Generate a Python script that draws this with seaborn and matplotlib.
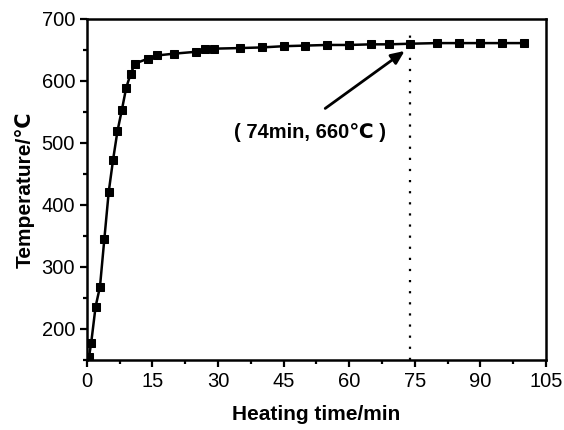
import pandas as pd
import matplotlib.pyplot as plt
import seaborn as sns
from matplotlib.ticker import MultipleLocator

# Heating curve
time_min = [0.5, 1, 2, 3, 4, 5, 6, 7, 8, 9, 10, 11, 14, 16, 20, 25, 27, 29,
            35, 40, 45, 50, 55, 60, 65, 69, 74, 80, 85, 90, 95, 100]
temperature = [155, 178, 236, 268, 345, 421, 473, 519, 553, 589, 611, 628,
               636, 641, 644, 647, 651, 652, 653, 654, 656, 657, 658, 658,
               659, 659, 660, 661, 661, 661, 661, 661]
mark_time = 74
mark_temp = 660
mark_label = '( 74min, 660\u2103 )'

df = pd.DataFrame({'time': time_min, 'temp': temperature})

sns.set_style('ticks')
plt.rcParams['font.family'] = ['Liberation Sans', 'DejaVu Sans']
plt.rcParams['text.color'] = 'black'
plt.rcParams['axes.labelcolor'] = 'black'
plt.rcParams['xtick.color'] = 'black'
plt.rcParams['ytick.color'] = 'black'
plt.rcParams['axes.edgecolor'] = 'black'

fig = plt.figure(figsize=(5.64, 4.30), dpi=100)
ax = fig.add_axes([0.154, 0.163, 0.814, 0.793])

sns.lineplot(data=df, x='time', y='temp', ax=ax, color='black',
             linewidth=1.8, marker='s', markersize=6, markeredgecolor='black')

ax.axvline(mark_time, color='black', linestyle=(0, (1, 4)), linewidth=1.6,
           ymax=(683 - 150) / (700 - 150))

ax.annotate('', xy=(73.2, 651), xytext=(54, 553),
            arrowprops=dict(arrowstyle='-|>,head_length=0.8,head_width=0.35',
                            color='black', lw=2))
ax.text(51, 517, mark_label, ha='center', va='center', fontsize=14.5,
        fontweight='bold')

ax.set_xlim(0, 105)
ax.set_ylim(150, 700)
ax.xaxis.set_major_locator(MultipleLocator(15))
ax.xaxis.set_minor_locator(MultipleLocator(7.5))
ax.yaxis.set_major_locator(MultipleLocator(100))
ax.yaxis.set_minor_locator(MultipleLocator(50))
ax.tick_params(which='major', length=5, width=1.6, labelsize=14.5)
ax.tick_params(which='minor', length=3, width=1.6)
for s in ax.spines.values():
    s.set_linewidth(1.8)

ax.set_xlabel('Heating time/min', fontsize=15, fontweight='bold', labelpad=10)
ax.set_ylabel('Temperature/\u2103', fontsize=15, fontweight='bold', labelpad=5)

fig.savefig('out.png', dpi=100)
